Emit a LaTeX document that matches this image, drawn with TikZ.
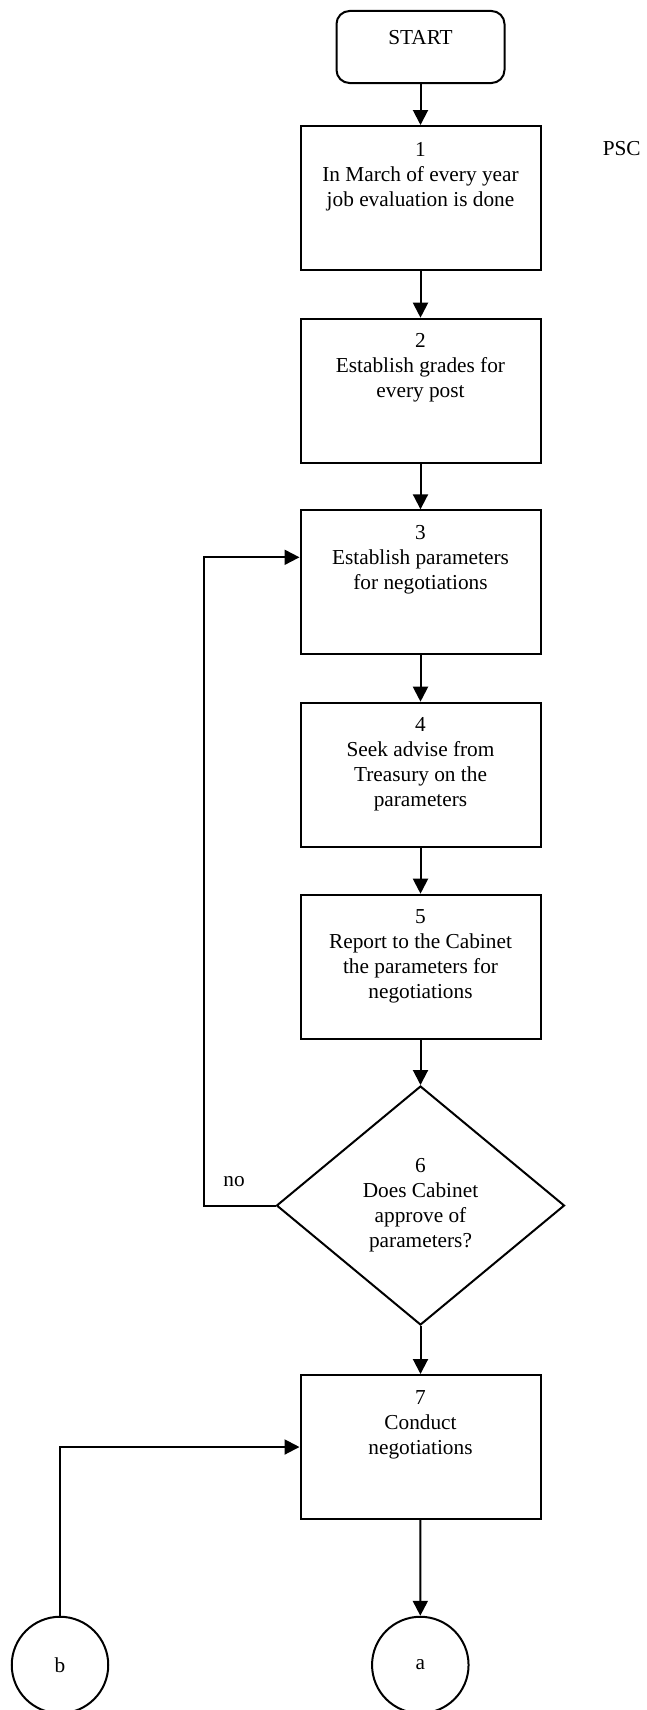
\documentclass[tikz,border=0pt]{standalone}
\usepackage{fontspec}
\setmainfont{Liberation Serif}
\usetikzlibrary{arrows.meta,shapes.geometric}

% top-aligned text block inside a box: height, width, first-baseline drop, text
\newcommand\flowtext[4]{\parbox[c][#1][t]{#2}{\centering\rule{0pt}{#3}#4}}

\tikzset{
  base/.style={draw, line width=2pt, inner sep=0pt},
  startbox/.style={base, rounded corners=13pt, anchor=north,
    minimum width=168pt, minimum height=72pt},
  stepbox/.style={base, anchor=north, minimum width=240pt, minimum height=144pt},
  decision/.style={base, diamond, align=center, minimum width=288pt,
    minimum height=239pt},
  connector/.style={base, circle, minimum size=96.5pt},
  arr/.style={line width=2pt, -{Triangle[width=15pt,length=15pt]}},
  plain/.style={inner sep=0pt}
}

\begin{document}
\begin{tikzpicture}[x=1pt, y=-1pt, font=\fontsize{21.3pt}{25pt}\selectfont]
\useasboundingbox (0,0) rectangle (647,1710);
\begin{scope}
\clip (0,0) rectangle (647,1710);

% main column
\node[startbox] (start) at (420.5,10) {\flowtext{72pt}{160pt}{33pt}{START}};
\node[stepbox] (s1) at (420.5,125) {\flowtext{144pt}{236pt}{30pt}{1\\In March of every year\\job evaluation is done}};
\node[stepbox] (s2) at (420.5,317.7) {\flowtext{144pt}{236pt}{29pt}{2\\Establish grades for\\every post}};
\node[stepbox] (s3) at (420.5,509.3) {\flowtext{144pt}{236pt}{29pt}{3\\Establish parameters\\for negotiations}};
\node[stepbox] (s4) at (420.5,701.7) {\flowtext{144pt}{236pt}{29pt}{4\\Seek advise from\\Treasury on the\\parameters}};
\node[stepbox] (s5) at (420.5,893.7) {\flowtext{144pt}{236pt}{29pt}{5\\Report to the Cabinet\\the parameters for\\negotiations}};
\node[decision] (d) at (420.5,1205.5) {6\\Does Cabinet\\approve of\\parameters?};
\node[stepbox] (s7) at (420.5,1374) {\flowtext{144pt}{236pt}{29pt}{7\\Conduct\\negotiations}};
\node[connector] (a) at (420.3,1665) {a};
\node[connector] (b) at (60,1665) {b};

% side labels
\node[plain] (psc) at (621.7,148.3) {PSC};
\node[plain] (no) at (234,1181.7) {no};
\coordinate (fb) at (204,0);

% connectors
\draw[arr] (start) -- (s1);
\draw[arr] (s1) -- (s2);
\draw[arr] (s2) -- (s3);
\draw[arr] (s3) -- (s4);
\draw[arr] (s4) -- (s5);
\draw[arr] (s5) -- (d.north);
\draw[arr] (d.south) -- (s7);
\draw[arr] (s7) -- (a.north);
\draw[arr] (d.west) -- (d.west -| fb) |- ([yshift=-48pt]s3.north west);
\draw[arr] (b.north) |- (s7.west);
\end{scope}
\end{tikzpicture}
\end{document}
